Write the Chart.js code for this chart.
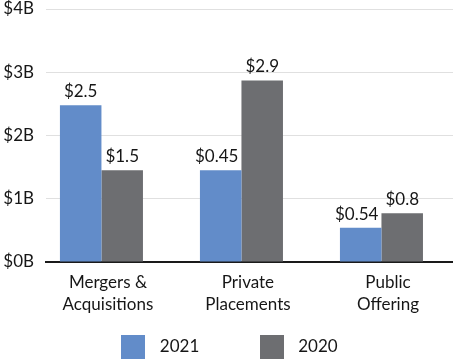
<!DOCTYPE html>
<html><head><meta charset="utf-8">
<script src="https://cdn.jsdelivr.net/npm/chart.js@4.4.1/dist/chart.umd.min.js"></script>
<style>html,body{margin:0;padding:0;background:#fff;}#wrap{width:453px;height:360px;position:relative;}</style>
</head><body><div id="wrap"><canvas id="c"></canvas></div>
<script>
const categories = [['Mergers &','Acquisitions'],['Private','Placements'],['Public','Offering']];
const seriesNames = ['2021','2020'];
const values2021 = [2.48, 1.45, 0.54];
const values2020 = [1.45, 2.87, 0.77];
const labels2021 = ['$2.5','$0.45','$0.54'];
const labels2020 = ['$1.5','$2.9','$0.8'];
const yTickLabels = ['$0B','$1B','$2B','$3B','$4B'];

const FONT = 'Lato, "Open Sans", sans-serif';
const TEXT = '#161616';
const colors = ['#628cc9','#6d6e71'];

function swatch(color,size){
  const c=document.createElement('canvas');c.width=size;c.height=size;
  const g=c.getContext('2d');g.fillStyle=color;g.fillRect(0,0,size,size);return c;
}
const swatches = colors.map(col=>swatch(col,24));
const blank = swatch('rgba(0,0,0,0)',1);

const barLabels = {
  id:'barLabels',
  afterDatasetsDraw(chart){
    const ctx=chart.ctx;
    ctx.save();
    ctx.font='17px '+FONT; ctx.fillStyle=TEXT; ctx.textAlign='center'; ctx.textBaseline='alphabetic';
    chart.data.datasets.forEach((ds,i)=>{
      chart.getDatasetMeta(i).data.forEach((bar,j)=>{
        const t=ds.valueLabels[j]; const w=ctx.measureText(t).width;
        const right=bar.x+bar.width/2-3;
        const x=Math.min(bar.x,right-w/2);
        ctx.fillText(t,x,bar.y-8);
      });
    });
    ctx.restore();
  }
};

new Chart(document.getElementById('c'),{
  type:'bar',
  data:{
    labels:categories,
    datasets:[
      {label:seriesNames[0],data:values2021,backgroundColor:colors[0],valueLabels:labels2021,barPercentage:1,categoryPercentage:0.593},
      {label:seriesNames[1],data:values2020,backgroundColor:colors[1],valueLabels:labels2020,barPercentage:1,categoryPercentage:0.593}
    ]
  },
  options:{
    responsive:true,maintainAspectRatio:false,animation:false,devicePixelRatio:1,
    layout:{padding:{top:9,left:0,right:0,bottom:0}},
    scales:{
      x:{
        grid:{display:false,drawTicks:false},
        border:{display:true,color:'#1a1a1a',width:2},
        ticks:{font:{family:FONT,size:17,lineHeight:1.3},color:TEXT,padding:9,labelOffset:6.5,maxRotation:0,autoSkip:false},
        afterBuildTicks(s){s._startValue=-0.396;s._valueRange=2.907;},
        afterFit(s){s.height=71.5;s.paddingLeft=0;s.paddingRight=0;}
      },
      y:{
        min:0,max:4,
        grid:{drawTicks:false,color:c=>c.tick&&c.tick.value===0?'rgba(0,0,0,0)':'#e0e0e0',lineWidth:1},
        border:{display:false},
        ticks:{stepSize:1,font:{family:FONT,size:17,lineHeight:1},color:TEXT,padding:12,callback:(v,i)=>yTickLabels[i]},
        afterFit(s){s.width=46;s.paddingTop=0;s.paddingBottom=0;}
      }
    },
    plugins:{
      tooltip:{enabled:false},
      legend:{
        position:'bottom',maxHeight:26.5,
        onClick:()=>{},
        labels:{
          usePointStyle:true,pointStyleWidth:36,padding:5,color:TEXT,
          font:{family:FONT,size:17},
          generateLabels(chart){
            const items=Chart.defaults.plugins.legend.labels.generateLabels(chart);
            items.forEach((it,i)=>{it.pointStyle=swatches[i];});
            const spacer={text:'',fillStyle:'rgba(0,0,0,0)',strokeStyle:'rgba(0,0,0,0)',lineWidth:0,pointStyle:blank,hidden:false};
            return [items[0],spacer,items[1]];
          }
        }
      }
    }
  },
  plugins:[barLabels]
});
</script></body></html>
